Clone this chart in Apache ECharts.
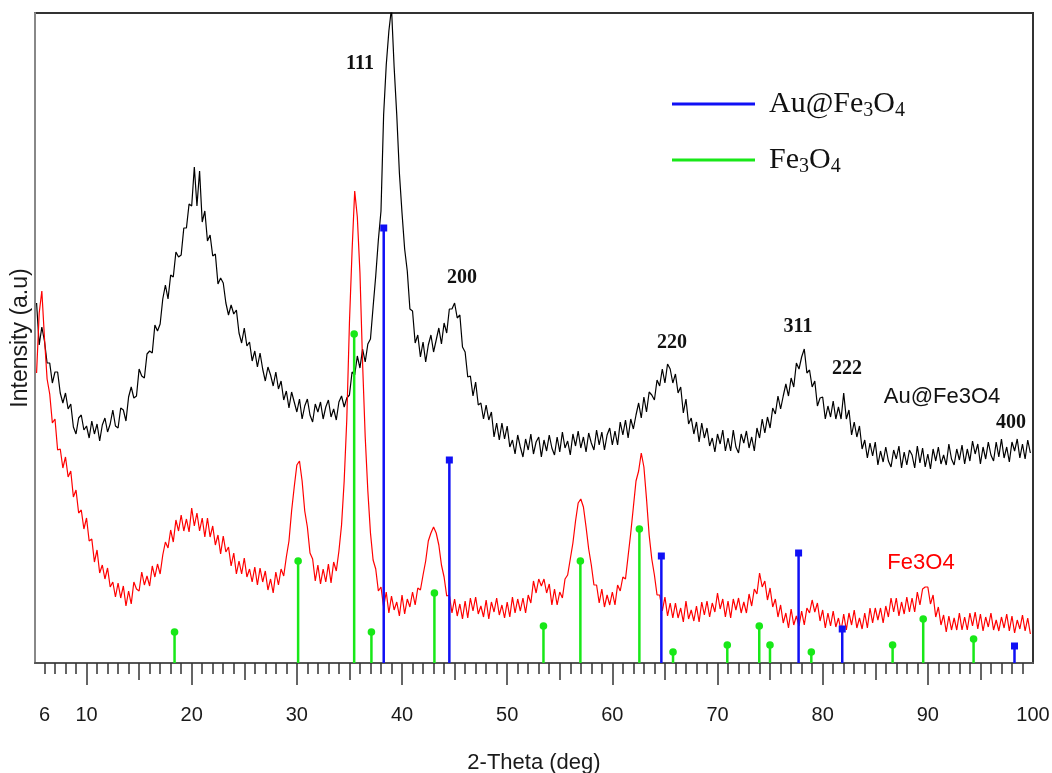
<!DOCTYPE html>
<html>
<head>
<meta charset="utf-8">
<script src="https://cdn.jsdelivr.net/npm/echarts@6.0.0/dist/echarts.min.js"></script>
<style>
  html, body { margin: 0; padding: 0; background: #fff; }
  #chart { width: 1052px; height: 773px; }
</style>
</head>
<body>
<div id="chart"></div>
<script>
var thetaStart = 5.25, thetaStep = 0.25;

var auFe3o4Pattern = [
  360, 318, 336,
  322, 300, 300, 280,  291, 291, 270, 260,  270, 254, 259, 236,  229, 245, 248, 233,
  237, 225, 242, 229,  239, 222, 238, 245,  231, 239, 253, 237,  235, 255, 253, 242,
  266, 276, 265, 267,  294, 287, 285, 309,  312, 310, 338, 332,  339, 364, 378, 364,
  388, 386, 411, 406,  408, 435, 435, 459,  457, 496, 457, 492,  441, 452, 422, 428,
  407, 409, 379, 385,  380, 360, 348, 358,  349, 353, 330, 320,  335, 317, 321, 302,
  312, 296, 310, 294,  282, 296, 288, 277,  291, 274, 282, 263,  272, 255, 271, 261,
  251, 264, 244, 257,  264, 248, 241, 259,  251, 261, 244, 256,  263, 246, 254, 243,
  261, 267, 256, 265,  268, 291, 288, 307,  295, 314, 301, 319,  324, 356, 387, 423,
  452, 548, 598, 632,  655, 596, 548, 490,  450, 414, 392, 354,  352, 320, 328, 306,
  321, 301, 318, 328,  311, 323, 335, 319,  340, 330, 354, 354,  360, 345, 348, 316,
  311, 286, 287, 267,  281, 258, 260, 244,  258, 243, 251, 226,  240, 223, 240, 224,
  237, 216, 223, 209,  228, 216, 206, 224,  213, 229, 209, 221,  226, 206, 223, 212,
  228, 215, 208, 226,  211, 231, 215, 222,  208, 229, 217, 232,  215, 226, 211, 230,
  220, 213, 233, 218,  231, 213, 228, 235,  218, 232, 218, 241,  228, 243, 225, 244,
  234, 248, 260, 245,  266, 251, 271, 268,  263, 283, 277, 294,  280, 299, 294, 280,
  289, 270, 276, 250,  264, 239, 245, 229,  241, 221, 240, 225,  235, 217, 225, 211,
  229, 219, 233, 212,  225, 212, 233, 216,  210, 229, 220, 232,  215, 226, 212, 235,
  225, 244, 230, 246,  235, 255, 249, 267,  254, 267, 279, 267,  285, 276, 300, 294,
  306, 314, 290, 293,  276, 282, 257, 265,  266, 244, 257, 246,  262, 244, 256, 244,
  270, 244, 253, 228,  241, 226, 237, 214,  223, 205, 220, 207,  221, 198, 212, 201,
  216, 202, 196, 213,  204, 217, 195, 211,  198, 213, 208, 195,  217, 200, 215, 196,
  209, 194, 214, 202,  216, 199, 208, 198,  219, 204, 198, 214,  203, 218, 199, 214,
  202, 222, 209, 219,  199, 216, 204, 221,  208, 202, 221, 206,  224, 205, 216, 201,
  221, 212, 224, 205,  219, 204, 223, 210
];

var fe3o4Pattern = [
  290, 350, 372,
  325, 284, 269, 240,  244, 213, 214, 195,  206, 186, 192, 166,  173, 150, 153, 134,
  145, 122, 124, 101,  113, 90, 98, 84,     95, 76, 81, 66,      80, 65, 77, 57,
  72, 59, 81, 74,      72, 91, 78, 87,      77, 97, 86, 99,      89, 108, 121, 115,
  133, 121, 143, 132,  148, 132, 144, 131,  155, 137, 150, 132,  145, 126, 145, 126,
  137, 118, 128, 109,  127, 111, 116, 97,   110, 89, 102, 89,    105, 86, 94, 81,
  96, 78, 95, 81,      92, 73, 84, 70,      91, 78, 94, 87,      106, 122, 152, 176,
  198, 202, 182, 152,  136, 110, 104, 82,   98, 79, 94, 81,      99, 80, 101, 92,
  112, 138, 182, 244,  340, 412, 472, 446,  390, 300, 226, 172,  130, 103, 94, 72,
  76, 56, 71, 50,      67, 53, 61, 47,      68, 49, 64, 56,      71, 58, 75, 73,
  88, 102, 122, 130,   136, 130, 118, 98,   86, 67, 68, 50,      64, 47, 59, 44,
  62, 45, 65, 52,      66, 49, 57, 46,      63, 44, 61, 51,      65, 48, 58, 45,
  61, 46, 66, 50,      64, 52, 65, 50,      68, 60, 82, 70,      84, 77, 84, 70,
  79, 58, 74, 58,      71, 65, 84, 88,      104, 120, 142, 160,  164, 156, 136, 114,
  98, 78, 78, 60,      74, 56, 68, 58,      71, 58, 78, 72,      86, 84, 107, 130,
  156, 182, 192, 210,  196, 164, 128, 104,  88, 68, 68, 52,      66, 47, 60, 45,
  60, 45, 55, 41,      62, 44, 53, 42,      57, 41, 61, 48,      62, 46, 60, 51,
  70, 54, 64, 46,      62, 45, 64, 53,      65, 50, 61, 50,      69, 57, 74, 69,
  90, 76, 82, 63,      75, 56, 64, 46,      58, 40, 50, 35,      54, 38, 47, 37,
  52, 38, 55, 50,      63, 51, 60, 42,      53, 35, 50, 37,      52, 36, 45, 32,
  49, 33, 50, 38,      53, 35, 45, 34,      50, 35, 55, 40,      55, 43, 55, 40,
  57, 46, 65, 51,      65, 47, 61, 49,      66, 51, 65, 51,      71, 58, 74, 76,
  76, 59, 68, 46,      56, 38, 48, 31,      47, 33, 45, 33,      50, 33, 46, 33,
  50, 37, 51, 34,      49, 32, 46, 36,      50, 33, 43, 32,      46, 35, 49, 32,
  47, 30, 43, 34,      48, 32, 45, 29
];

// reference (standard card) lines
var auRefTheta = [38.26, 44.5, 64.66, 77.71, 81.86, 98.24];
var auRefHeight = [435, 203, 107, 110, 34, 17];
var feRefTheta = [18.37, 30.12, 35.45, 37.09, 43.08, 53.45, 56.96, 62.57, 65.77, 70.93, 73.97, 74.99, 78.92, 86.65, 89.56, 94.35];
var feRefHeight = [31, 102, 329, 31, 70, 37, 102, 134, 11, 18, 37, 18, 11, 18, 44, 24];

var tickLabels = [6, 10, 20, 30, 40, 50, 60, 70, 80, 90, 100];
var majorTicks = [10, 20, 30, 40, 50, 60, 70, 80, 90];
var midTicks = [15, 25, 35, 45, 55, 65, 75, 85, 95];
var minorTicks = [];
for (var t = 6; t <= 99; t++) minorTicks.push(t);

function toPoints(arr) {
  return arr.map(function (v, i) { return [thetaStart + i * thetaStep, v]; });
}
function zip(a, b) {
  return a.map(function (v, i) { return [v, b[i]]; });
}

function stickRenderer(shape) {
  return function (params, api) {
    var base = api.coord([api.value(0), 0]);
    var top = api.coord([api.value(0), api.value(1)]);
    var color = api.visual('color');
    var mark = shape === 'square'
      ? { type: 'rect', shape: { x: top[0] - 3.5, y: top[1] - 3.5, width: 7, height: 7 }, style: { fill: color } }
      : { type: 'circle', shape: { cx: top[0], cy: top[1], r: 3.8 }, style: { fill: color } };
    return {
      type: 'group',
      children: [
        { type: 'line', shape: { x1: base[0], y1: base[1], x2: top[0], y2: top[1] }, style: { stroke: color, lineWidth: 2.5 } },
        mark
      ]
    };
  };
}

var blue = '#1010f5', green = '#18e818';
var serif = 'Liberation Serif', sans = 'Liberation Sans';

function xAx(ticks, len, extra) {
  var ax = {
    type: 'value', position: 'bottom', min: 5.1, max: 100,
    axisLine: { show: false },
    axisTick: { show: true, customValues: ticks, length: len, lineStyle: { color: '#333', width: 1.5 } },
    axisLabel: { show: false },
    splitLine: { show: false }
  };
  return Object.assign(ax, extra || {});
}

var chart = echarts.init(document.getElementById('chart'));
chart.setOption({
  animation: false,
  backgroundColor: '#fff',
  grid: {
    left: 35, right: 19, top: 13, bottom: 110, outerBoundsMode: 'none',
    show: true, borderColor: '#333', borderWidth: 2
  },
  legend: {
    orient: 'vertical', left: 667, top: 82, itemWidth: 83, itemHeight: 3, itemGap: 22,
    selectedMode: false,
    data: [{ name: 'Au@Fe3O4', icon: 'rect' }, { name: 'Fe3O4', icon: 'rect' }],
    formatter: function (name) { return '{sp|}' + name.replace(/(\d)/g, '{s|$1}'); },
    textStyle: {
      fontFamily: serif, fontSize: 30, color: '#111', lineHeight: 34,
      rich: {
        sp: { width: 9 },
        s: { fontFamily: serif, fontSize: 20, color: '#111', verticalAlign: 'bottom', lineHeight: 16 }
      }
    }
  },
  xAxis: [
    xAx(majorTicks, 22, {
      axisLine: { show: true, lineStyle: { color: '#555', width: 2 } },
      axisLabel: { show: true, customValues: tickLabels, margin: 42, fontSize: 20, fontFamily: sans, color: '#1a1a1a' },
      name: '2-Theta (deg)', nameLocation: 'middle', nameGap: 89,
      nameTextStyle: { fontSize: 22, fontFamily: sans, color: '#1a1a1a' }
    }),
    xAx(midTicks, 17),
    xAx(minorTicks, 11)
  ],
  yAxis: {
    type: 'value', min: 0, max: 650,
    axisLine: { show: true, lineStyle: { color: '#888', width: 2 } },
    axisTick: { show: false }, axisLabel: { show: false }, splitLine: { show: false },
    name: 'Intensity (a.u)', nameLocation: 'middle', nameGap: 3,
    nameTextStyle: { fontSize: 23, fontFamily: sans, color: '#1a1a1a' }
  },
  graphic: [
    { type: 'text', x: 360, y: 64, style: { text: '111', font: 'bold 20px "Liberation Serif"', fill: '#111', align: 'center', verticalAlign: 'middle' } },
    { type: 'text', x: 462, y: 278, style: { text: '200', font: 'bold 20px "Liberation Serif"', fill: '#111', align: 'center', verticalAlign: 'middle' } },
    { type: 'text', x: 672, y: 343, style: { text: '220', font: 'bold 20px "Liberation Serif"', fill: '#111', align: 'center', verticalAlign: 'middle' } },
    { type: 'text', x: 798, y: 327, style: { text: '311', font: 'bold 20px "Liberation Serif"', fill: '#111', align: 'center', verticalAlign: 'middle' } },
    { type: 'text', x: 847, y: 369, style: { text: '222', font: 'bold 20px "Liberation Serif"', fill: '#111', align: 'center', verticalAlign: 'middle' } },
    { type: 'text', x: 1011, y: 423, style: { text: '400', font: 'bold 20px "Liberation Serif"', fill: '#111', align: 'center', verticalAlign: 'middle' } },
    { type: 'text', x: 942, y: 397, style: { text: 'Au@Fe3O4', font: '22px "Liberation Sans"', fill: '#111', align: 'center', verticalAlign: 'middle' } },
    { type: 'text', x: 921, y: 563, style: { text: 'Fe3O4', font: '22px "Liberation Sans"', fill: '#ff0000', align: 'center', verticalAlign: 'middle' } }
  ],
  series: [
    {
      name: 'Au@Fe3O4 pattern', type: 'line', data: toPoints(auFe3o4Pattern),
      showSymbol: false, lineStyle: { color: '#000', width: 1.2 }, itemStyle: { color: '#000' }, z: 2
    },
    {
      name: 'Fe3O4 pattern', type: 'line', data: toPoints(fe3o4Pattern),
      showSymbol: false, lineStyle: { color: '#ff0000', width: 1.2 }, itemStyle: { color: '#ff0000' }, z: 2
    },
    {
      name: 'Au@Fe3O4', type: 'custom', data: zip(auRefTheta, auRefHeight),
      renderItem: stickRenderer('square'), itemStyle: { color: blue }, encode: { x: 0, y: 1 }, z: 3
    },
    {
      name: 'Fe3O4', type: 'custom', data: zip(feRefTheta, feRefHeight),
      renderItem: stickRenderer('circle'), itemStyle: { color: green }, encode: { x: 0, y: 1 }, z: 3
    }
  ]
});
</script>
</body>
</html>
